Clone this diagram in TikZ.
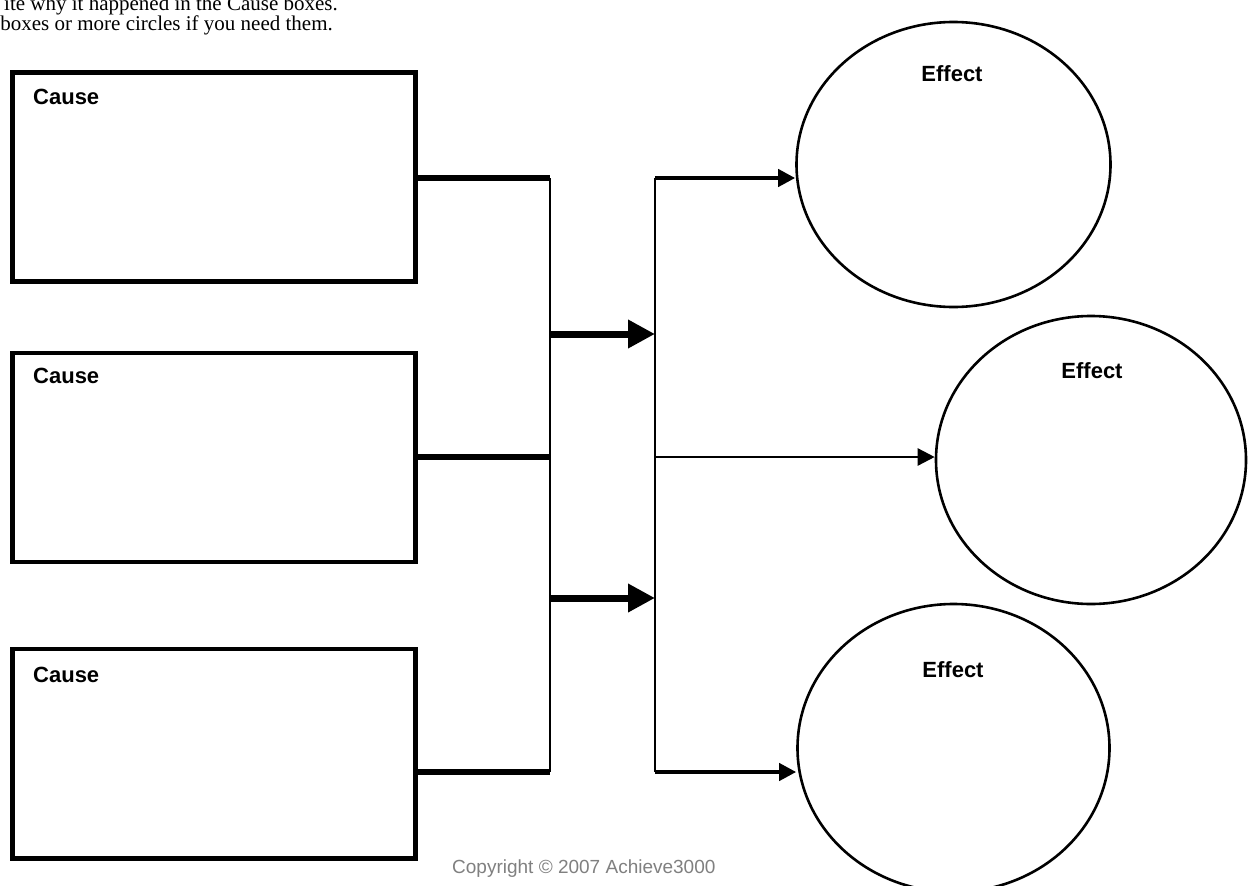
\documentclass[tikz,border=0pt]{standalone}
\usepackage{fontspec}
\setmainfont{Liberation Serif}
\setsansfont{Liberation Sans}
\usetikzlibrary{arrows.meta,shapes.geometric}
\definecolor{notegray}{RGB}{128,128,128}

\begin{document}
\begin{tikzpicture}[x=1pt,y=-1pt,
  causebox/.style={draw, line width=4.5pt, minimum width=403pt, minimum height=209pt, inner sep=0pt},
  effectbox/.style={draw, ellipse, line width=2.6pt, inner sep=0pt},
  boxtitle/.style={font=\sffamily\bfseries\fontsize{22}{26}\selectfont, inner sep=0pt},
  notetext/.style={font=\fontsize{21}{24}\selectfont, inner sep=0pt, anchor=base east},
  feed/.style={line width=6pt},
  rail/.style={line width=1.6pt},
  bigarrow/.style={line width=7pt, -{Triangle[length=27pt,width=27pt]}},
  outarrow/.style={line width=4pt, -{Triangle[length=17pt,width=17pt]}}]
\useasboundingbox (0,0) rectangle (1248,886);
\clip (0,0) rectangle (1248,886);
\fill[white] (0,0) rectangle (1248,886);

\node[notetext] (note1) at (338,10) {ite why it happened in the Cause boxes.};
\node[notetext] (note2) at (333,30) {boxes or more circles if you need them.};

\node[causebox] (cause1) at (214,177) {};
\node[causebox] (cause2) at (214,457.5) {};
\node[causebox, minimum height=209.5pt] (cause3) at (214,753.75) {};
\node[boxtitle, anchor=base west] (cname1) at (33,104) {Cause};
\node[boxtitle, anchor=base west] (cname2) at (33,383) {Cause};
\node[boxtitle, anchor=base west] (cname3) at (33,682) {Cause};

\node[effectbox, minimum width=314pt, minimum height=285pt] (effect1) at (953.5,164.5) {};
\node[effectbox, minimum width=310pt, minimum height=288pt] (effect2) at (1091,460) {};
\node[effectbox, minimum width=312pt, minimum height=288pt] (effect3) at (953.5,748) {};
\node[boxtitle, anchor=base] (ename1) at (952,81) {Effect};
\node[boxtitle, anchor=base] (ename2) at (1092,378) {Effect};
\node[boxtitle, anchor=base] (ename3) at (953,677) {Effect};

\coordinate (join1) at (550,178);
\coordinate (join2) at (550,457);
\coordinate (join3) at (550,772);
\coordinate (mid1) at (550,334);
\coordinate (mid2) at (550,598);
\coordinate (split1) at (655,178);
\coordinate (split2) at (655,457);
\coordinate (split3) at (655,772);

\draw[feed] (cause1.east |- join1) -- (join1);
\draw[feed] (cause2.east |- join2) -- (join2);
\draw[feed] (cause3.east |- join3) -- (join3);
\draw[rail] (join1) -- (join3);
\draw[bigarrow] (mid1) -- (split1 |- mid1);
\draw[bigarrow] (mid2) -- (split1 |- mid2);
\draw[rail] (split1) -- (split3);
\draw[outarrow] (split1) -- (effect1.west |- split1);
\draw[outarrow, line width=2.5pt] (split2) -- (effect2.west |- split2);
\draw[outarrow] (split3) -- (effect3.west |- split3);

\node[font=\sffamily\fontsize{19}{22}\selectfont, text=notegray, inner sep=0pt, anchor=base west] (copy) at (452,873) {Copyright © 2007 Achieve3000};
\end{tikzpicture}
\end{document}
